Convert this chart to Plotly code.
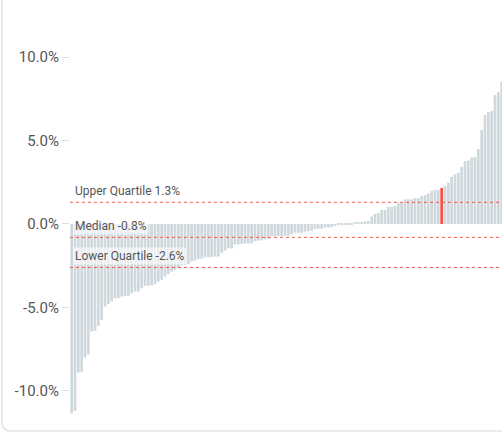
import plotly.graph_objects as go

# Values (percent), sorted ascending
left_vals = [-11.35, -11.2, -8.9, -8.85, -8.0, -7.8, -6.45, -6.4, -6.1, -5.75,
             -4.95, -4.8, -4.65, -4.45, -4.45, -4.35, -4.3, -4.3, -4.15, -4.05,
             -4.05, -3.85, -3.7, -3.7, -3.67, -3.6, -3.45, -3.35, -3.15, -3.0,
             -2.85, -2.75, -2.6, -2.5, -2.45, -2.4, -2.25, -2.18, -2.1, -2.08,
             -2.0, -2.0, -1.97, -1.95, -1.95]
mid_vals = [-1.72, -1.6, -1.46, -1.46, -1.22, -1.22, -1.2, -1.17, -1.16, -1.16,
            -1.02, -1.0, -0.98, -0.92, -0.9, -0.72, -0.72, -0.72, -0.72, -0.7,
            -0.7, -0.62, -0.52, -0.52, -0.52, -0.46, -0.43, -0.4, -0.3, -0.29,
            -0.29, -0.22, -0.22, -0.18, -0.12, -0.08, -0.07, -0.05, -0.05, -0.05]
right_vals = [0.12, 0.12, 0.12, 0.15, 0.18, 0.44, 0.6, 0.66, 0.84, 0.84,
              1.02, 1.02, 1.08, 1.28, 1.28, 1.48, 1.48, 1.48, 1.56, 1.56,
              1.68, 1.74, 1.82, 1.98, 2.04, 2.04, 2.16, 2.28, 2.47, 2.83,
              2.97, 3.07, 3.41, 3.77, 3.8, 3.97, 4.02, 4.49, 5.63, 6.53,
              6.7, 6.77, 7.72, 7.9, 8.5]
values = left_vals + mid_vals + right_vals
highlight_index = 111

ref_lines = [("Upper Quartile 1.3%", 1.3), ("Median -0.8%", -0.8), ("Lower Quartile -2.6%", -2.6)]
tick_vals = [-10, -5, 0, 5, 10]
tick_text = ["-10.0%", "-5.0%", "0.0%", "5.0%", "10.0%"]

GREY = "#cfd8dc"
RED = "#f4523f"
colors = [RED if i == highlight_index else GREY for i in range(len(values))]

fig = go.Figure(go.Bar(x=list(range(len(values))), y=values, marker=dict(color=colors, line=dict(width=0)),
                       hoverinfo="skip"))

W, H = 502, 433
L, R, T, B = 70, 0, 40, 13
pw, ph = W - L - R, H - T - B

for text, v in ref_lines:
    fig.add_shape(type="line", xref="paper", yref="y", x0=0, x1=1, y0=v, y1=v,
                  line=dict(color="#ee5a4c", width=1, dash="dot"), layer="above")
    fig.add_annotation(xref="paper", yref="y", x=0, y=v, xanchor="left", yanchor="bottom",
                       text=text, showarrow=False, xshift=3, yshift=2,
                       font=dict(family="Roboto", size=12, color="#555"),
                       bgcolor="rgba(255,255,255,0.6)", borderpad=1)

# card border (left + rounded bottom-left corner)
px = lambda x: (x - L) / pw
py = lambda y: (H - B - y) / ph
r = 9
path = (f"M {px(2)},{py(-20)} L {px(2)},{py(431-r)} "
        f"Q {px(2)},{py(431)} {px(2+r)},{py(431)} L {px(520)},{py(431)}")
fig.add_shape(type="path", xref="paper", yref="paper", path=path,
              line=dict(color="#e3e3e3", width=1.5))

fig.update_layout(
    width=W, height=H, margin=dict(l=L, r=R, t=T, b=B),
    paper_bgcolor="white", plot_bgcolor="white", showlegend=False, bargap=0.2,
    xaxis=dict(range=[-0.5, 129.1], visible=False),
    yaxis=dict(range=[-11.74, 11.02], tickvals=tick_vals, ticktext=tick_text,
               showgrid=False, zeroline=False, showline=False,
               ticks="outside", ticklen=7, tickcolor="#e0e0e0",
               tickfont=dict(family="Roboto", size=15, color="#555")),
)

fig.write_html("out.html", config={"displayModeBar": False},
               post_script="document.body.style.margin='0';document.body.style.overflow='hidden';")
